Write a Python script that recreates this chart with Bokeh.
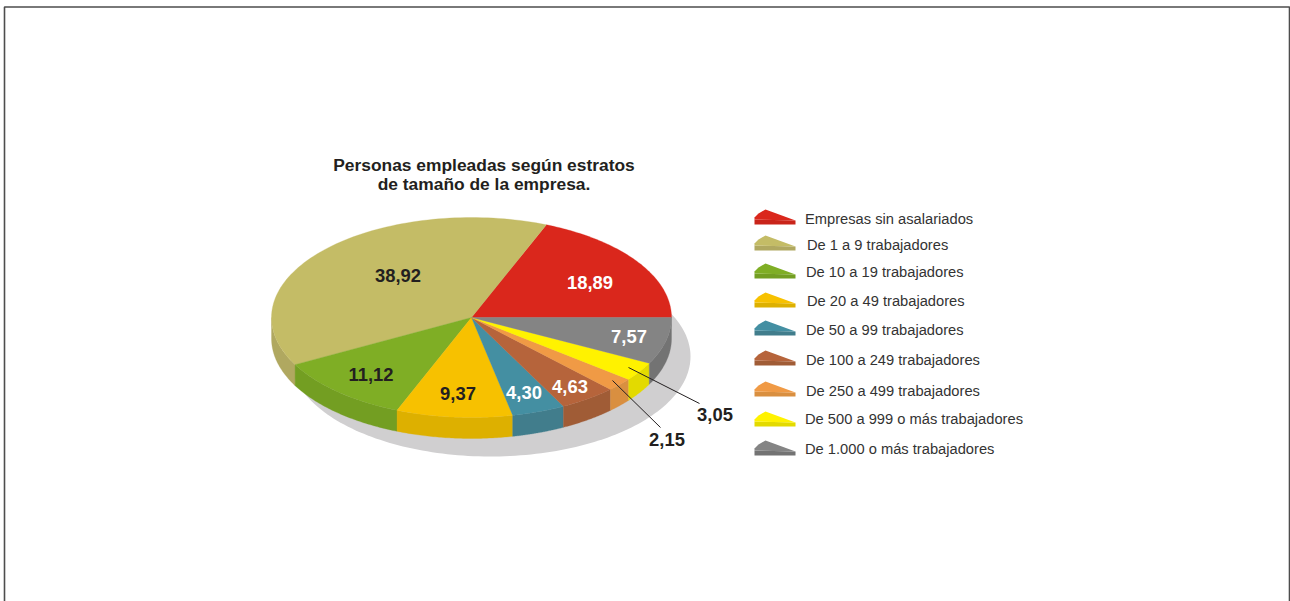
import numpy as np
from bokeh.plotting import figure
from bokeh.models import Range1d
from bokeh.core.properties import value
from bokeh.embed import file_html
from bokeh.resources import INLINE

title_lines = ["Personas empleadas según estratos", "de tamaño de la empresa."]
categories = ["Empresas sin asalariados", "De 1 a 9 trabajadores", "De 10 a 19 trabajadores",
              "De 20 a 49 trabajadores", "De 50 a 99 trabajadores", "De 100 a 249 trabajadores",
              "De 250 a 499 trabajadores", "De 500 a 999 o más trabajadores", "De 1.000 o más trabajadores"]
shares = [18.89, 38.92, 11.12, 9.37, 4.30, 4.63, 2.15, 3.05, 7.57]
share_labels = ["18,89", "38,92", "11,12", "9,37", "4,30", "4,63", "2,15", "3,05", "7,57"]
top_colors = ["#da271c", "#c4bc66", "#7fae25", "#f7c100", "#448fa2", "#b6643b", "#f09a45", "#fff200", "#848484"]
side_colors = ["#c9241a", "#b0a860", "#739e22", "#ddb000", "#417d8c", "#a05c36", "#d98f40", "#e3da00", "#737373"]
label_colors = ["#ffffff", "#231f20", "#231f20", "#231f20", "#ffffff", "#ffffff", "#231f20", "#231f20", "#ffffff"]
label_x = [589.5, 397.5, 370.5, 457.5, 523.5, 569.5, 666.5, 714.5, 628.5]
label_y = [282, 275, 374, 393, 392, 386, 439, 414, 336]
legend_text_x = [804.5, 806.5, 805.5, 806.5, 805.5, 805.5, 805.5, 804.5, 804.5]
legend_text_y = [218, 244, 271, 300, 329, 359, 390, 418, 448]
swatch_tip_y = [209, 235, 263, 292, 320, 350, 381, 411, 440]
leader_x = [[612, 660], [628, 699]]
leader_y = [[380, 427], [367, 403]]

cx, cy, rx, ry, depth = 471, 317, 200, 100, 21
shadow_cx, shadow_cy = 490, 356

p = figure(width=1290, height=601, output_backend="svg", toolbar_location=None,
           x_range=Range1d(0, 1290), y_range=Range1d(601, 0),
           min_border=0, outline_line_color=None)
p.axis.visible = False
p.grid.visible = False
p.background_fill_color = "#ffffff"

# page frame
p.line([4, 4, 1289, 1289], [601, 6.5, 6.5, 601], line_color="#4d4d4d", line_width=1.6)

# shadow
t = np.linspace(0, 2 * np.pi, 240)
p.patch(shadow_cx + rx * np.cos(t), shadow_cy + ry * np.sin(t), fill_color="#d0cfd0", line_color=None)

edges = np.concatenate([[0], np.cumsum(shares)]) / sum(shares) * 2 * np.pi

# rim of the front half
for a, b, col in zip(edges[:-1], edges[1:], side_colors):
    lo, hi = max(a, np.pi), min(b, 2 * np.pi)
    if hi <= lo:
        continue
    s = np.linspace(lo, hi, 60)
    xs = cx + rx * np.cos(s)
    ys = cy - ry * np.sin(s)
    p.patch(np.concatenate([xs, xs[::-1]]), np.concatenate([ys, ys[::-1] + depth]),
            fill_color=col, line_color=col, line_width=0.3)

# top face
for a, b, col in zip(edges[:-1], edges[1:], top_colors):
    s = np.linspace(a, b, 90)
    p.patch(np.concatenate([[cx], cx + rx * np.cos(s)]), np.concatenate([[cy], cy - ry * np.sin(s)]),
            fill_color=col, line_color=col, line_width=0.3)

# leaders
p.multi_line(leader_x, leader_y, line_color="#231f20", line_width=1)

# value labels
p.text(label_x, label_y, text=share_labels, text_color=label_colors, text_font=value("Liberation Sans"),
       text_font_style="bold", text_font_size="18.4px", text_align="center", text_baseline="middle")

# title
p.text([483.5, 483.5], [164, 183], text=title_lines, text_color="#231f20", text_font=value("Liberation Sans"),
       text_font_style="bold", text_font_size="17.4px", text_align="center", text_baseline="middle")

# legend
for tip, top, side, lx, ly, name in zip(swatch_tip_y, top_colors, side_colors, legend_text_x, legend_text_y, categories):
    p.patch([754, 754, 795, 795], [tip + 10, tip + 15, tip + 15, tip + 11], fill_color=side, line_color=None)
    p.patch([754, 754, 758, 765, 795], [tip + 10, tip + 8, tip + 4, tip, tip + 11],
            fill_color=top, line_color=None)
    p.text([lx], [ly], text=[name], text_color="#333333", text_font=value("Liberation Sans"),
           text_font_size="14.7px", text_align="left", text_baseline="middle")

open("out.html", "w").write(file_html(p, INLINE))
